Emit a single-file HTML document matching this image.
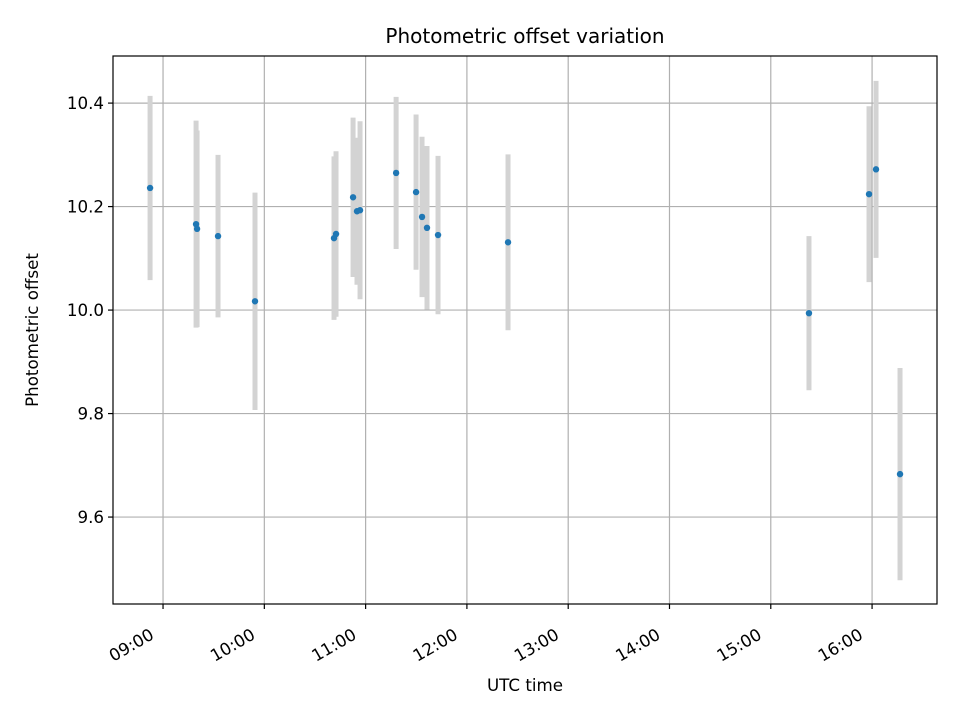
<!DOCTYPE html>
<html><head><meta charset="utf-8"><style>
body{margin:0;background:#fff}
svg text{font-family:"DejaVu Sans","Liberation Sans",sans-serif;fill:#000}
</style></head><body>
<svg id="chart" width="960" height="720" viewBox="0 0 960 720">
<rect width="960" height="720" fill="#fff"/>
<text x="525" y="43" font-size="20" text-anchor="middle">Photometric offset variation</text>
<g id="grid"></g><g id="bars"></g><g id="pts"></g><g id="ticks"></g>
<rect x="113" y="56" width="824" height="548" fill="none" stroke="#000" stroke-width="1.2"/>
<text x="525" y="691" font-size="16.7" text-anchor="middle">UTC time</text>
<text transform="translate(38,330) rotate(-90)" font-size="16.7" text-anchor="middle">Photometric offset</text>
</svg>
<script>
const times=[8.872,9.326,9.336,9.543,9.908,10.688,10.708,10.876,10.915,10.945,11.301,11.498,11.557,11.606,11.715,12.406,15.377,15.970,16.039,16.276];
const offsets=[10.236,10.166,10.157,10.143,10.017,10.139,10.147,10.218,10.191,10.193,10.265,10.228,10.180,10.159,10.145,10.131,9.994,10.224,10.272,9.683];
const errors=[0.178,0.200,0.190,0.157,0.210,0.158,0.160,0.154,0.142,0.172,0.147,0.150,0.155,0.158,0.153,0.170,0.149,0.170,0.171,0.205];
const xTicks=[9,10,11,12,13,14,15,16];
const xTickLabels=["09:00","10:00","11:00","12:00","13:00","14:00","15:00","16:00"];
const yTicks=[9.6,9.8,10.0,10.2,10.4];
const yTickLabels=["9.6","9.8","10.0","10.2","10.4"];
const X0=113,X1=937,Y0=56,Y1=604,xmin=8.506,xmax=16.641,ymin=9.432,ymax=10.491;
const xs=h=>X0+(h-xmin)/(xmax-xmin)*(X1-X0);
const ys=v=>Y1-(v-ymin)/(ymax-ymin)*(Y1-Y0);
const NS="http://www.w3.org/2000/svg";
function mk(t,a,p){const e=document.createElementNS(NS,t);for(const k in a)e.setAttribute(k,a[k]);p.appendChild(e);return e;}
const grid=document.getElementById('grid'),ticks=document.getElementById('ticks');
xTicks.forEach((h,i)=>{const x=xs(h);
 const g=mk('line',{x1:x,x2:x,y1:Y0,y2:Y1,stroke:'#b0b0b0','stroke-width':1.2},grid);
 
 
 const t=mk('line',{x1:x,x2:x,y1:Y1,y2:Y1+5,stroke:'#000','stroke-width':1.2},ticks);
 
 
 const l=mk('text',{'font-size':16.7,'text-anchor':'end',transform:`translate(${x-8},${Y1+34}) rotate(-30)`},ticks);
 l.textContent=xTickLabels[i];
 
 
});
yTicks.forEach((v,i)=>{const y=ys(v);
 const g=mk('line',{x1:X0,x2:X1,y1:y,y2:y,stroke:'#b0b0b0','stroke-width':1.2},grid);
 
 
 const t=mk('line',{x1:X0-5,x2:X0,y1:y,y2:y,stroke:'#000','stroke-width':1.2},ticks);
 
 
 const l=mk('text',{x:X0-9,y:y+6,'font-size':16.7,'text-anchor':'end'},ticks);
 l.textContent=yTickLabels[i];
 
 
});
const bars=document.getElementById('bars'),pts=document.getElementById('pts');
times.forEach((h,i)=>{const x=xs(h);
 const b=mk('line',{x1:x,x2:x,y1:ys(offsets[i]-errors[i]),y2:ys(offsets[i]+errors[i]),stroke:'#d3d3d3','stroke-width':5},bars);
 
 
 const c=mk('circle',{cx:x,cy:ys(offsets[i]),r:3.2,fill:'#1f77b4'},pts);
 
 
});
</script>
</body></html>
